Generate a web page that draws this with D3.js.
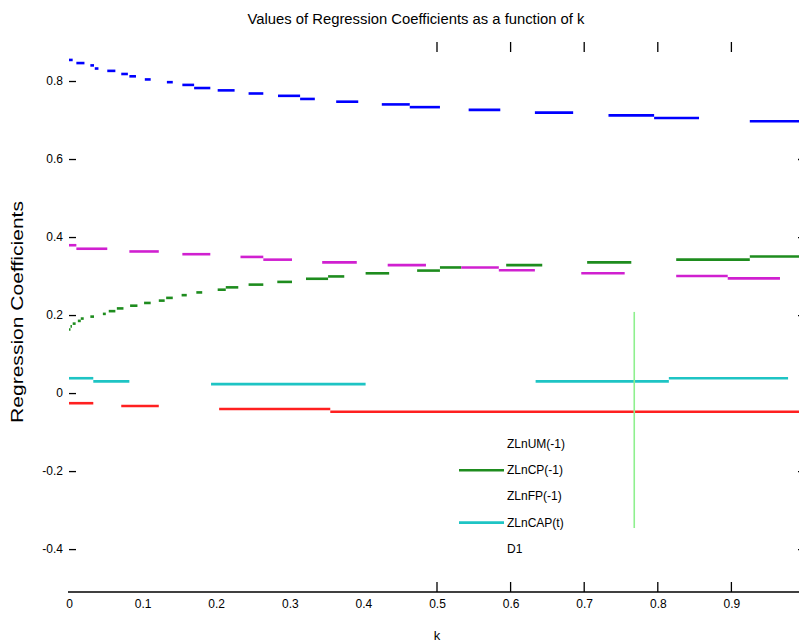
<!DOCTYPE html>
<html>
<head>
<meta charset="utf-8">
<script src="https://cdn.jsdelivr.net/npm/d3@7"></script>
<style>
  body { margin: 0; background: #fff; }
  svg { display: block; font-family: "Liberation Sans", Arial, sans-serif; }
</style>
</head>
<body>
<div id="wrapper"></div>
<script>
// legend names and colours, in plotting order
const seriesNames = ["ZLnUM(-1)", "ZLnCP(-1)", "ZLnFP(-1)", "ZLnCAP(t)", "D1"]
const seriesColors = ["#0000ff", "#1e8c1e", "#ff2020", "#1ec4c4", "#d020d0"]
// which legend samples can be seen in the picture
const legendShowLine = [false, true, false, true, false]

// visible pieces of each trace: [k start, k end, coefficient]
const blueSegs = [
  [0.000, 0.005, 0.854], [0.010, 0.021, 0.846], [0.029, 0.034, 0.840], [0.035, 0.040, 0.832],
  [0.052, 0.063, 0.826], [0.071, 0.080, 0.818], [0.082, 0.091, 0.812], [0.103, 0.111, 0.804],
  [0.133, 0.141, 0.797], [0.154, 0.170, 0.790], [0.170, 0.192, 0.782], [0.202, 0.225, 0.776],
  [0.244, 0.264, 0.768], [0.284, 0.314, 0.762], [0.314, 0.334, 0.754], [0.363, 0.393, 0.747],
  [0.425, 0.463, 0.740], [0.463, 0.504, 0.733], [0.543, 0.586, 0.726], [0.633, 0.685, 0.719],
  [0.733, 0.795, 0.712], [0.795, 0.856, 0.705], [0.925, 1.000, 0.697]
]
const greenSegs = [
  [0.000, 0.002, 0.163], [0.002, 0.004, 0.171], [0.005, 0.009, 0.178], [0.012, 0.016, 0.185],
  [0.016, 0.020, 0.191], [0.029, 0.034, 0.196], [0.046, 0.050, 0.203], [0.054, 0.063, 0.210],
  [0.065, 0.074, 0.217], [0.083, 0.093, 0.224], [0.102, 0.111, 0.231], [0.122, 0.130, 0.237],
  [0.132, 0.141, 0.244], [0.153, 0.160, 0.251], [0.173, 0.181, 0.258], [0.202, 0.213, 0.265],
  [0.213, 0.230, 0.271], [0.244, 0.264, 0.278], [0.283, 0.303, 0.285], [0.322, 0.352, 0.293],
  [0.352, 0.374, 0.299], [0.403, 0.435, 0.307], [0.473, 0.504, 0.314], [0.504, 0.533, 0.322],
  [0.594, 0.643, 0.328], [0.704, 0.764, 0.335], [0.825, 0.925, 0.342], [0.925, 1.000, 0.350]
]
const redSegs = [
  [0.000, 0.033, -0.026], [0.071, 0.122, -0.033], [0.204, 0.355, -0.041], [0.355, 1.000, -0.048]
]
const cyanSegs = [
  [0.000, 0.033, 0.038], [0.033, 0.082, 0.030], [0.193, 0.403, 0.023],
  [0.634, 0.815, 0.030], [0.815, 0.977, 0.038]
]
const magentaSegs = [
  [0.000, 0.010, 0.379], [0.010, 0.052, 0.370], [0.082, 0.122, 0.363], [0.154, 0.192, 0.356],
  [0.233, 0.264, 0.349], [0.264, 0.303, 0.342], [0.344, 0.391, 0.335], [0.433, 0.485, 0.328],
  [0.533, 0.584, 0.322], [0.584, 0.633, 0.315], [0.696, 0.755, 0.307], [0.825, 0.895, 0.300],
  [0.895, 0.966, 0.294]
]
const allSegs = [blueSegs, greenSegs, redSegs, cyanSegs, magentaSegs]

// chosen k marker: [k, coefficient from, coefficient to]
const kMarker = [0.768, 0.208, -0.346]

// ticks
const xTickValues = [0, 0.1, 0.2, 0.3, 0.4, 0.5, 0.6, 0.7, 0.8, 0.9]
const xTickMarks = [0.5, 0.6, 0.7, 0.8, 0.9]
const yTickValues = [-0.4, -0.2, 0, 0.2, 0.4, 0.6, 0.8]
const yRightTicks = [-0.4, -0.2, 0.2, 0.4, 0.6]

const titleText = "Values of Regression Coefficients as a function of k"
const xLabelText = "k"
const yLabelText = "Regression Coefficients"

function drawChart() {
  const width = 799
  const height = 643

  const svg = d3.select("#wrapper")
    .append("svg")
      .attr("width", width)
      .attr("height", height)

  const xScale = d3.scaleLinear()
    .domain([0, 1])
    .range([69, 805])

  const yScale = d3.scaleLinear()
    .domain([-0.51, 0.9])
    .range([592, 42])

  const fmt = d => d === 0 ? "0" : d.toFixed(1)

  // bottom axis
  const xAxis = svg.append("g")
      .attr("transform", `translate(0, ${yScale(-0.51)})`)
      .call(d3.axisBottom(xScale).tickValues(xTickValues).tickFormat(fmt).tickSize(0).tickPadding(7))
  xAxis.select(".domain").remove()
  xAxis.selectAll("text").style("font-size", "12px").attr("fill", "#000")
  svg.append("line")
      .attr("x1", xScale(0) - 1).attr("x2", xScale(1))
      .attr("y1", yScale(-0.51)).attr("y2", yScale(-0.51))
      .attr("stroke", "#000").attr("stroke-width", 1.3)

  // inward x tick marks, bottom and top
  const xMarks = svg.append("g")
  xMarks.selectAll(".xb")
      .data(xTickMarks)
    .enter().append("line")
      .attr("x1", d => xScale(d)).attr("x2", d => xScale(d))
      .attr("y1", yScale(-0.51)).attr("y2", yScale(-0.51) - 10)
      .attr("stroke", "#000").attr("stroke-width", 1.3)
  xMarks.selectAll(".xt")
      .data(xTickMarks)
    .enter().append("line")
      .attr("x1", d => xScale(d)).attr("x2", d => xScale(d))
      .attr("y1", yScale(0.9)).attr("y2", yScale(0.9) + 10)
      .attr("stroke", "#000").attr("stroke-width", 1.3)

  // left axis, ticks pointing in
  const yAxis = svg.append("g")
      .attr("transform", `translate(${xScale(0)}, 0)`)
      .call(d3.axisLeft(yScale).tickValues(yTickValues).tickFormat(fmt).tickSize(-7).tickPadding(6))
  yAxis.select(".domain").remove()
  yAxis.selectAll("line").attr("stroke-width", 1.3)
  yAxis.selectAll("text").style("font-size", "12px").attr("fill", "#000")

  // right axis ticks
  const yAxisRight = svg.append("g")
      .attr("transform", `translate(${xScale(1)}, 0)`)
      .call(d3.axisRight(yScale).tickValues(yRightTicks).tickFormat("").tickSize(-7))
  yAxisRight.select(".domain").remove()
  yAxisRight.selectAll("line").attr("stroke-width", 1.3)

  // traces
  const segLine = d3.line()
    .x(d => xScale(d[0]))
    .y(d => yScale(d[1]))

  allSegs.forEach((segs, i) => {
    svg.append("g")
      .selectAll("path")
        .data(segs)
      .enter().append("path")
        .attr("d", d => segLine([[d[0], d[2]], [d[1], d[2]]]))
        .attr("fill", "none")
        .attr("stroke", seriesColors[i])
        .attr("stroke-width", 2.6)
  })

  // k marker
  svg.append("line")
      .attr("x1", xScale(kMarker[0])).attr("x2", xScale(kMarker[0]))
      .attr("y1", yScale(kMarker[1])).attr("y2", yScale(kMarker[2]))
      .attr("stroke", "#8ef08e")
      .attr("stroke-width", 1.6)

  // legend
  const legend = svg.append("g")
  const legendRows = legend.selectAll("g")
      .data(seriesNames)
    .enter().append("g")
      .attr("transform", (d, i) => `translate(459, ${444 + i * 26.2})`)
  legendRows.filter((d, i) => legendShowLine[i])
    .append("line")
      .attr("x1", 0).attr("x2", 45)
      .attr("y1", 0).attr("y2", 0)
      .attr("stroke", d => seriesColors[seriesNames.indexOf(d)])
      .attr("stroke-width", 2.6)
  legendRows.append("text")
      .attr("x", 48)
      .attr("y", 4)
      .style("font-size", "12px")
      .attr("fill", "#000")
      .text(d => d)

  // title and labels
  svg.append("text")
      .attr("x", 416)
      .attr("y", 24)
      .attr("text-anchor", "middle")
      .attr("textLength", 337)
      .attr("lengthAdjust", "spacingAndGlyphs")
      .style("font-size", "14px")
      .text(titleText)

  svg.append("text")
      .attr("x", 437)
      .attr("y", 640)
      .attr("text-anchor", "middle")
      .style("font-size", "13px")
      .text(xLabelText)

  svg.append("text")
      .attr("transform", `translate(23, 312) rotate(-90)`)
      .attr("text-anchor", "middle")
      .attr("textLength", 222)
      .attr("lengthAdjust", "spacingAndGlyphs")
      .style("font-size", "16px")
      .text(yLabelText)
}

drawChart()
</script>
</body>
</html>
